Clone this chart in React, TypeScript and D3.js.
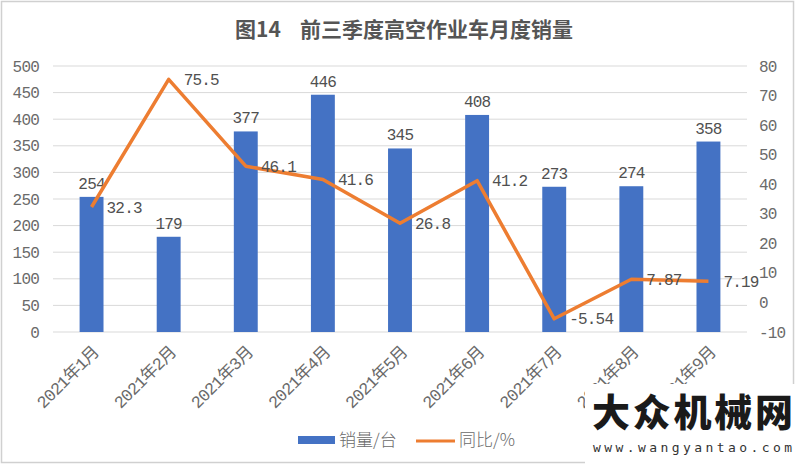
import React from "react";
import * as d3 from "d3";

const months = [
  "2021年1月", "2021年2月", "2021年3月", "2021年4月", "2021年5月",
  "2021年6月", "2021年7月", "2021年8月", "2021年9月",
];
const sales = [254, 179, 377, 446, 345, 408, 273, 274, 358];
const yoy = [32.3, 75.5, 46.1, 41.6, 26.8, 41.2, -5.54, 7.87, 7.19];
const leftTicks = [0, 50, 100, 150, 200, 250, 300, 350, 400, 450, 500];
const rightTicks = [-10, 0, 10, 20, 30, 40, 50, 60, 70, 80];

const W = 800;
const H = 466;
const plot = { left: 53, right: 747, top: 66, bottom: 332 };

const numFont = "'Liberation Mono', 'Noto Sans CJK SC', monospace";
const cjkFont = "'Noto Sans CJK SC', sans-serif";

const App = () => {
  const x = d3
    .scaleBand<string>()
    .domain(months)
    .range([plot.left, plot.right])
    .paddingInner(0.69)
    .paddingOuter(0.345);

  const yL = d3.scaleLinear().domain([0, 500]).range([plot.bottom, plot.top]);
  const yR = d3.scaleLinear().domain([-10, 80]).range([plot.bottom, plot.top]);

  const cx = (i: number) => (x(months[i]) as number) + x.bandwidth() / 2;

  const line = d3
    .line<number>()
    .x((_, i) => cx(i))
    .y((d) => yR(d));

  return (
    <svg
      width={W}
      height={H}
      style={{ position: "absolute", left: 0, top: 0, background: "#fff" }}
    >
      <rect x={0} y={0} width={W} height={H} fill="#fff" />
      <rect x={1.5} y={1.5} width={792} height={461} fill="none" stroke="#d0d0d0" strokeWidth={1.5} />

      {/* title */}
      <text x={235} y={37} fontFamily={cjkFont} fontSize={21} fontWeight="bold" fill="#555">
        图14
      </text>
      <text
        x={300}
        y={37}
        textLength={273}
        fontFamily={cjkFont}
        fontSize={21}
        fontWeight="bold"
        fill="#555"
      >
        前三季度高空作业车月度销量
      </text>

      {/* gridlines */}
      {leftTicks.map((t) => (
        <line
          key={t}
          x1={plot.left}
          x2={plot.right}
          y1={yL(t)}
          y2={yL(t)}
          stroke="#d9d9d9"
          strokeWidth={1}
        />
      ))}

      {/* left axis labels */}
      {leftTicks.map((t) => (
        <text
          key={t}
          x={39}
          y={yL(t)}
          dy="0.35em"
          textAnchor="end"
          fontFamily={numFont}
          fontSize={16}
          letterSpacing={-0.8}
          fill="#6a6a6a"
        >
          {t}
        </text>
      ))}

      {/* right axis labels */}
      {rightTicks.map((t) => (
        <text
          key={t}
          x={759}
          y={yR(t)}
          dy="0.35em"
          fontFamily={numFont}
          fontSize={16}
          letterSpacing={-0.8}
          fill="#6a6a6a"
        >
          {t}
        </text>
      ))}

      {/* bars */}
      {sales.map((v, i) => (
        <rect
          key={months[i]}
          x={x(months[i])}
          y={yL(v)}
          width={x.bandwidth()}
          height={yL(0) - yL(v)}
          fill="#4472C4"
        />
      ))}

      {/* bar labels */}
      {sales.map((v, i) => (
        <text
          key={months[i]}
          x={cx(i)}
          y={yL(v) - 8}
          textAnchor="middle"
          fontFamily={numFont}
          fontSize={16}
          letterSpacing={-0.8}
          fill="#505050"
        >
          {v}
        </text>
      ))}

      {/* yoy line */}
      <path
        d={line(yoy) ?? ""}
        fill="none"
        stroke="#ED7D31"
        strokeWidth={3.5}
        strokeLinejoin="round"
      />

      {yoy.map((v, i) => (
        <text
          key={months[i]}
          x={cx(i) + 15}
          y={yR(v)}
          dy="0.35em"
          fontFamily={numFont}
          fontSize={16}
          letterSpacing={-0.8}
          fill="#505050"
        >
          {v}
        </text>
      ))}

      {/* x labels */}
      {months.map((m, i) => (
        <text
          key={m}
          transform={`translate(${cx(i) + 4},${plot.bottom + 17}) rotate(-45)`}
          textAnchor="end"
          dy="0.35em"
          fontFamily={numFont}
          fontSize={17}
          letterSpacing={-0.8}
          fill="#6a6a6a"
        >
          {m}
        </text>
      ))}

      {/* legend */}
      <rect x={298} y={436} width={37} height={8} fill="#4472C4" />
      <text x={339} y={440} dy="0.35em" fontFamily={cjkFont} fontSize={17} fontWeight={300} fill="#6a6a6a">
        销量/台
      </text>
      <line x1={416} x2={455} y1={441} y2={441} stroke="#ED7D31" strokeWidth={3} />
      <text x={459} y={440} dy="0.35em" fontFamily={cjkFont} fontSize={17} fontWeight={300} fill="#6a6a6a">
        同比/%
      </text>

      {/* watermark */}
      <rect x={585} y={384} width={215} height={82} fill="#fff" />
      <text
        x={592}
        y={426}
        textLength={201}
        fontFamily={cjkFont}
        fontSize={38}
        fontWeight="900"
        fill="#1a1a1a"
      >
        大众机械网
      </text>
      <text
        x={593}
        y={452}
        textLength={199}
        fontFamily="'DejaVu Sans Mono', monospace"
        fontSize={13}
        fill="#333"
      >
        www.wangyantao.com
      </text>
    </svg>
  );
};

export default App;
